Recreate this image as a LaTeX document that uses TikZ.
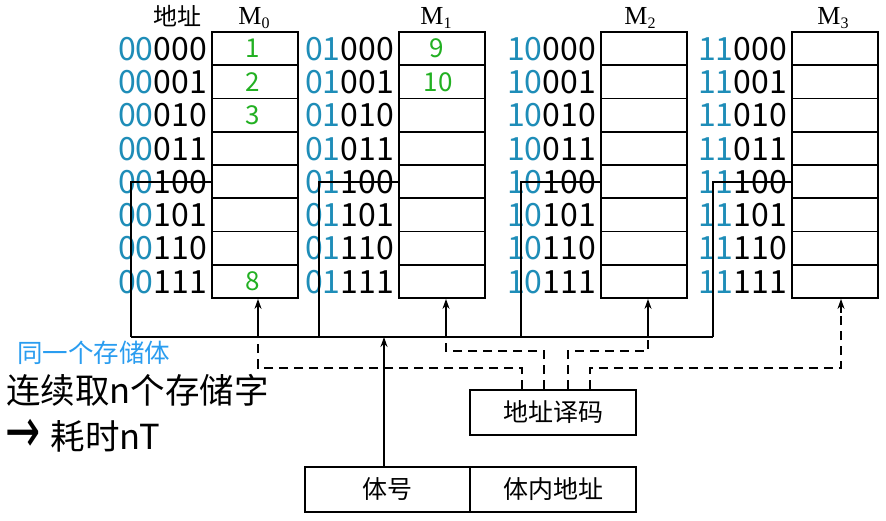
\documentclass[tikz,border=0pt]{standalone}
\usepackage{fontspec}
\setmainfont{Liberation Serif}
\newfontfamily\cjk{Noto Sans CJK SC}
\newfontfamily\arrfont{DejaVu Sans}
\usetikzlibrary{arrows.meta}
\definecolor{addrblue}{HTML}{1E8DB8}
\definecolor{numgreen}{HTML}{22B022}
\definecolor{noteblue}{HTML}{2A9DF0}
\tikzset{
  ln/.style={line width=1.8pt},
  cell/.style={draw, line width=1.8pt, minimum width=86pt, minimum height=33.25pt, inner sep=0pt},
  addr/.style={anchor=east, inner sep=0pt, font=\cjk\fontsize{32}{32}\selectfont},
  mlab/.style={inner sep=0pt, font=\fontsize{26}{26}\selectfont},
  num/.style={inner sep=0pt, text=numgreen, font=\cjk\fontsize{26}{26}\selectfont},
  box/.style={draw, line width=1.8pt, minimum height=45pt, inner sep=0pt, font=\cjk\fontsize{25}{25}\selectfont},
  arr/.style={line width=1.8pt, -{Stealth[length=10pt,width=7pt]}},
  dsh/.style={line width=1.8pt, dash pattern=on 9pt off 6pt},
  note/.style={anchor=west, inner sep=0pt}
}
\begin{document}
\begin{tikzpicture}[x=1pt,y=-1pt]
\useasboundingbox (0,0) rectangle (886,520);
\fill[white] (0,0) rectangle (886,520);

\node[inner sep=0pt, font=\cjk\fontsize{24}{24}\selectfont] (dz) at (177,16) {地址};

\foreach \n/\xl/\lx/\pre in {0/212/254/00,1/399/436/01,2/601/640/10,3/792/833/11}{
  \node[mlab] (lab\n) at (\lx,18) {M\raisebox{-0.35ex}{\fontsize{16}{16}\selectfont\n}};
  \foreach \r/\bits in {0/000,1/001,2/010,3/011,4/100,5/101,6/110,7/111}{
    \node[cell] (c\n\r) at (\xl+43, 48.6+33.25*\r) {};
    \node[addr] (a\n\r) at (\xl-5, 49+33.25*\r) {\textcolor{addrblue}{\pre}\bits};
  }
}

\node[num] (g1) at ([xshift=-2pt]c00.center) {1};
\node[num] (g2) at ([xshift=-2pt]c01.center) {2};
\node[num] (g3) at ([xshift=-2pt]c02.center) {3};
\node[num] (g8) at ([xshift=-2pt]c07.center) {8};
\node[num] (g9) at ([xshift=-5pt]c10.center) {9};
\node[num] (g10) at ([xshift=-4pt]c11.center) {10};

% bus taps
\coordinate (t0) at (131,181.6); \coordinate (b0) at (131,337);
\coordinate (t1) at (319,181.6); \coordinate (b1) at (319,337);
\coordinate (t2) at (521,181.6); \coordinate (b2) at (521,337);
\coordinate (t3) at (713,181.6); \coordinate (b3) at (713,337);
\foreach \n in {0,1,2,3}{
  \draw[ln] (c\n4.west) -- (t\n) -- (b\n);
}
\draw[ln] (b0) -- (b3);

% boxes
\node[box, minimum width=166pt] (dec) at (553,412.5) {地址译码};
\node[box, minimum width=165pt] (bh) at (387.5,489.5) {体号};
\node[box, minimum width=166pt] (bn) at (553,489.5) {体内地址};

\coordinate (q) at (384,337);
\draw[arr] (q |- bh.north) -- (q);

% selection lines
\coordinate (u0) at (258,337);
\coordinate (u1) at (446,337);
\coordinate (u2) at (648,337);
\coordinate (u3) at (841,337);
\draw[arr] (u0) -- (u0 |- c07.south);
\draw[arr] (u1) -- (u1 |- c17.south);
\draw[arr] (u2) -- (u2 |- c27.south);

\coordinate (p1) at (522,368);
\coordinate (p2) at (544,351);
\coordinate (p3) at (568,351);
\coordinate (p4) at (590,368);
\draw[dsh] (p1 |- dec.north) -- (p1) -- (p1 -| u0) -- (u0);
\draw[dsh] (p2 |- dec.north) -- (p2) -- (p2 -| u1) -- (u1);
\draw[dsh] (p3 |- dec.north) -- (p3) -- (p3 -| u2) -- (u2);
\draw[dsh] (p4 |- dec.north) -- (p4) -- (p4 -| u3) -- ([yshift=-12pt]u3 |- c37.south);
\draw[arr] ([yshift=-14pt]u3 |- c37.south) -- (u3 |- c37.south);

% notes
\node[note, text=noteblue, font=\cjk\fontsize{25.5}{25.5}\selectfont] (n1) at (17,353) {同一个存储体};
\node[note, font=\cjk\fontsize{34.5}{34.5}\selectfont] (n2) at (6,390) {连续取n个存储字};
\node[note, font=\cjk\fontsize{34.5}{34.5}\selectfont] (n3) at (5,436) {\raisebox{-0.08em}{\scalebox{1}[1.5]{\arrfont\fontsize{42}{42}\selectfont →}}\hspace{0.3em}耗时nT};
\end{tikzpicture}
\end{document}
